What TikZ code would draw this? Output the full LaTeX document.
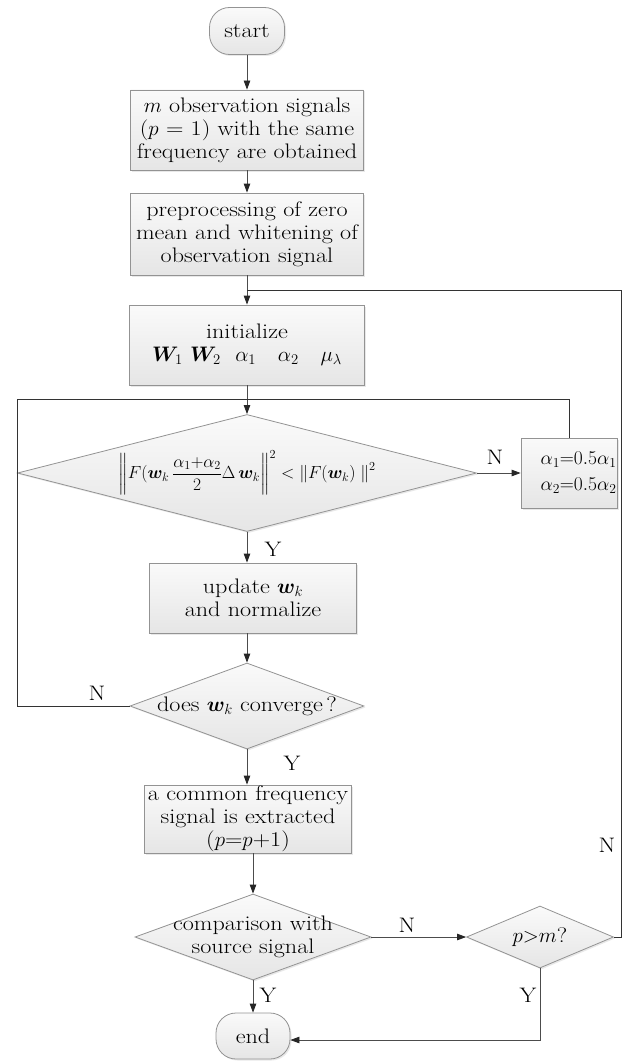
\RequirePackage{fix-cm}
\documentclass[tikz,border=0pt]{standalone}
\usepackage{amsmath,bm}
\usepackage{fontspec}
\setmainfont{Latin Modern Roman}[FakeStretch=1.15]
\usetikzlibrary{shapes.geometric,arrows.meta,shadows}
\tikzset{
  box/.style={draw=gray!85,top color=gray!4,bottom color=gray!20,inner sep=0pt,align=center,
    drop shadow={opacity=.18,shadow xshift=1.5pt,shadow yshift=-1.5pt}},
  term/.style={box,rounded corners=20pt},
  decide/.style={box,diamond},
  flow/.style={draw=gray!60!black,-{Triangle[length=9pt,width=6.5pt,color=black!85]}},
  link/.style={draw=black!80},
  lab/.style={inner sep=0pt,align=center}
}
\begin{document}
\begin{tikzpicture}[x=1pt,y=-1pt,font=\fontsize{21}{23}\selectfont,line width=.8pt]
    \useasboundingbox (0,0) rectangle (626,1062);
    \node[term,minimum width=75pt,minimum height=47pt] (start) at (247,31) {start};
    \node[box,minimum width=233pt,minimum height=80pt] (obs) at (247,130)
         {$m$ observation signals\\($p$ = 1) with the same\\frequency are obtained};
    \node[box,minimum width=233pt,minimum height=82pt] (pre) at (247,234)
         {preprocessing of zero\\mean and whitening of\\observation signal};
    \node[box,minimum width=235pt,minimum height=80pt] (init) at (247,345)
         {initialize\\$\bm{W}_1\ \bm{W}_2\ \ \alpha_1\ \ \ \alpha_2\ \ \ \mu_\lambda$};
    \node[decide,aspect=3.9,minimum width=459pt,minimum height=117pt,font=\fontsize{17.5}{22}\selectfont] (dec1) at (247,473)
         {$\left\| F(\bm{w}_k\,\dfrac{\alpha_1{+}\alpha_2}{2}\Delta\,\bm{w}_k \right\|^2 < \left\|F(\bm{w}_k)\;\right\|^2$};
    \node[box,minimum width=96pt,minimum height=70pt,text width=95pt,align=right,font=\fontsize{19.5}{26}\selectfont] (alpha) at (569,473)
         {$\alpha_1{=}0.5\alpha_1$\\$\alpha_2{=}0.5\alpha_2$};
    \node[box,minimum width=207pt,minimum height=70pt] (update) at (253,598)
         {update $\bm{w}_k$\\and normalize};
    \node[decide,aspect=2.7,minimum width=234pt,minimum height=86pt] (dec2) at (247,706)
         {does $\bm{w}_k$ converge\,?};
    \node[box,minimum width=207pt,minimum height=68pt] (common) at (248,819)
         {a common frequency\\signal is extracted\\($p$=$p$+1)};
    \node[decide,minimum width=236pt,minimum height=86pt] (dec3) at (253,937) {};
    \node[lab] (dec3t) at (dec3) {comparison with\\source signal};
    \node[decide,aspect=2.4,minimum width=147pt,minimum height=62pt] (pm) at (540,937) {$p{>}m$?};
    \node[term,minimum width=74pt,minimum height=46pt] (end) at (253,1036) {end};
    \coordinate (split) at (247,290);
    \coordinate (rt) at (621,290);
    \coordinate (lp) at (247,399);
    \coordinate (lt) at (17,399);
    \draw[flow] (start) -- (obs);
    \draw[flow] (obs) -- (pre);
    \draw[flow] (pre) -- (init);
    \draw[link] (pm.east) -| (rt) -- (split);
    \draw[flow] (init) -- (dec1);
    \draw[link] (dec2.west) -| (lt) -- (lp);
    \draw[link] (alpha.north) |- (lp);
    \draw[flow] (dec1.east) -- (alpha.west);
    \draw[flow] (dec1.south) -- (dec1.south |- update.north);
    \draw[flow] (dec2.north |- update.south) -- (dec2.north);
    \draw[flow] (dec2.south) -- (dec2.south |- common.north);
    \draw[flow] (dec3.north |- common.south) -- (dec3.north);
    \draw[flow] (dec3.east) -- (pm.west);
    \draw[flow] (dec3.south) -- (end.north);
    \draw[flow] (pm.south) |- ([yshift=-4pt]end.east);
    \node[lab] (n1) at (495,457) {N};
    \node[lab] (y1) at (273,549) {Y};
    \node[lab] (n2) at (97,693) {N};
    \node[lab] (y2) at (292,763) {Y};
    \node[lab] (n3) at (407,925) {N};
    \node[lab] (y3) at (268,995) {Y};
    \node[lab] (y4) at (528,995) {Y};
    \node[lab] (n4) at (607,845) {N};
\end{tikzpicture}
\end{document}
